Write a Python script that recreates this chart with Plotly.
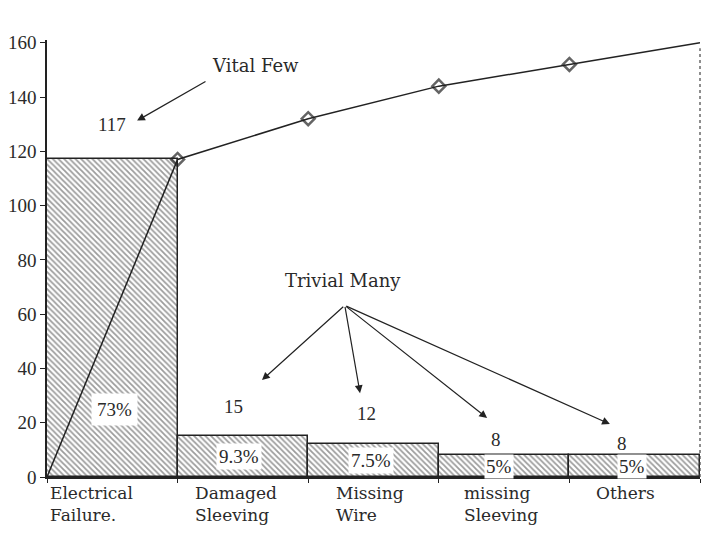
import plotly.graph_objects as go

# ---- data ----
categories = ["Electrical<br>Failure.", "Damaged<br>Sleeving", "Missing<br>Wire", "missing<br>Sleeving", "Others"]
counts = [117, 15, 12, 8, 8]
pct_labels = ["73%", "9.3%", "7.5%", "5%", "5%"]
y_ticks = [0, 20, 40, 60, 80, 100, 120, 140, 160]

# cumulative counts (start at origin)
cumulative = [0]
for c in counts:
    cumulative.append(cumulative[-1] + c)

# ---- styling / positioning helpers ----
NUMFONT = "Liberation Serif"
WORDFONT = "DejaVu Serif"
INK = "#2a2a2a"
cat_label_x = [0.34, 0.45, 0.47, 0.48, 0.43]
value_label_dy = [13, 11, 11.5, 6, 4.5]
value_label_dx = [0.5, 0.43, 0.45, 0.44, 0.40]
pct_label_dx = [0.52, 0.47, 0.48, 0.46, 0.48]
pct_label_pad = [5, 2, 2, 1, 1]

fig = go.Figure()

fig.add_trace(go.Bar(
    x=[i + 0.5 for i in range(len(counts))],
    y=counts,
    width=1.0,
    marker=dict(
        color="white",
        line=dict(color="#222", width=1.5),
        pattern=dict(shape="\\", fgcolor="#3a3a3a", bgcolor="white", size=4, solidity=0.45),
    ),
    showlegend=False,
    hoverinfo="skip",
))

fig.add_trace(go.Scatter(
    x=list(range(len(cumulative))),
    y=cumulative,
    mode="lines+markers",
    line=dict(color="#222", width=1.5),
    marker=dict(symbol="diamond-open", size=[0, 10, 10, 10, 10, 0],
                color="#222", line=dict(width=2.5, color="#222")),
    cliponaxis=False,
    showlegend=False,
))

annotations = []
# percentage labels (white boxes in the bars)
for i, (v, p) in enumerate(zip(counts, pct_labels)):
    annotations.append(dict(
        x=i + pct_label_dx[i], y=min(v / 2, 25), xref="x", yref="y",
        text=p, showarrow=False, bgcolor="white",
        font=dict(family=NUMFONT, size=19, color=INK), borderpad=pct_label_pad[i],
    ))
# value labels above bars
for i, v in enumerate(counts):
    annotations.append(dict(
        x=i + value_label_dx[i], y=v + value_label_dy[i], xref="x", yref="y",
        text=str(v), showarrow=False,
        font=dict(family=NUMFONT, size=19, color=INK),
    ))
# category labels under the axis
for i, c in enumerate(categories):
    annotations.append(dict(
        x=i + cat_label_x[i], y=0, xref="x", yref="paper",
        yanchor="top", yshift=-4, text=c, showarrow=False, align="left",
        font=dict(family=WORDFONT, size=17, color=INK),
    ))

# Vital Few
annotations.append(dict(x=1.6, y=151.5, xref="x", yref="y", text="Vital Few",
                        showarrow=False, font=dict(family=WORDFONT, size=18, color=INK)))
annotations.append(dict(x=0.69, y=131.3, ax=1.225, ay=146, xref="x", yref="y",
                        axref="x", ayref="y", text="", showarrow=True,
                        arrowhead=2, arrowsize=1.3, arrowwidth=1.2, arrowcolor="#222"))
# Trivial Many
annotations.append(dict(x=2.27, y=72.4, xref="x", yref="y", text="Trivial Many",
                        showarrow=False, font=dict(family=WORDFONT, size=18, color=INK)))
for hx, hy in [(1.646, 35.7), (2.397, 30.9), (3.37, 21.7), (4.31, 19.5)]:
    annotations.append(dict(x=hx, y=hy, ax=2.28, ay=63.2, xref="x", yref="y",
                            axref="x", ayref="y", text="", showarrow=True,
                            arrowhead=2, arrowsize=1.3, arrowwidth=1.2, arrowcolor="#222"))

fig.update_layout(
    width=720, height=540,
    margin=dict(l=39, r=28, t=32, b=71, autoexpand=False),
    paper_bgcolor="white", plot_bgcolor="white",
    font=dict(family=NUMFONT, size=17, color=INK),
    annotations=annotations,
    shapes=[dict(type="line", xref="x domain", yref="y", x0=1, x1=1, y0=0, y1=158,
                 line=dict(color="#444", width=1.2, dash="dot"))],
    bargap=0,
)
fig.update_xaxes(range=[0, 5], showline=True, linecolor="#222", linewidth=2,
                 tickvals=[0, 1, 2, 3, 4, 5], ticks="outside", ticklen=4,
                 tickcolor="#222", showticklabels=False, showgrid=False, zeroline=False,
                 automargin=False)
fig.update_yaxes(range=[0, 161], showline=True, linecolor="#222", linewidth=1.5,
                 tickvals=y_ticks, ticks="outside", ticklen=5, tickcolor="#222",
                 showgrid=False, zeroline=False, automargin=False,
                 tickfont=dict(family=NUMFONT, size=19, color=INK))

fig.write_html("out.html")
